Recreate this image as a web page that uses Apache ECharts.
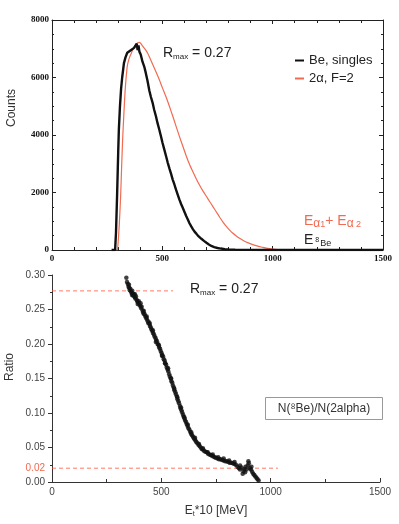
<!DOCTYPE html>
<html>
<head>
<meta charset="utf-8">
<title>Be / 2alpha</title>
<script src="https://cdn.jsdelivr.net/npm/echarts@6.0.0/dist/echarts.min.js"></script>
<style>
  html, body { margin: 0; padding: 0; background: #fff; }
  .chart { width: 399px; height: 524px; }
</style>
</head>
<body>
<div class="box"><div class="chart"></div></div>
<script>
// 上图：Be 单举 计数 [E, counts]
var beSingles = [
  [270, 0], [286, 0], [290, 600], [295, 1900], [300, 3400], [303, 4190], [308, 5000],
  [313, 5600], [318, 6000], [326, 6500], [333, 6700], [341, 6860], [350, 6900],
  [357, 6950], [365, 6980], [372, 7030], [380, 7090], [384, 7180], [388, 6950],
  [392, 7120], [396, 6900], [402, 6800], [410, 6550], [418, 6380], [425, 6160],
  [433, 5880], [441, 5550], [448, 5330], [456, 5120], [463, 4880], [471, 4650],
  [478, 4420], [486, 4190], [494, 3950], [501, 3720], [509, 3490], [517, 3260],
  [524, 3050], [532, 2840], [540, 2640], [547, 2450], [555, 2270], [562, 2100],
  [570, 1920], [577, 1760], [585, 1600], [593, 1460], [600, 1330], [608, 1180],
  [616, 1050], [623, 930], [631, 820], [639, 720], [646, 640], [654, 570],
  [661, 500], [669, 440], [677, 390], [690, 310], [700, 250], [711, 190],
  [722, 140], [735, 100], [750, 70], [765, 50], [783, 30], [800, 20], [830, 12],
  [870, 6], [900, 3], [950, 0], [1500, 0]
];
// 上图：2alpha, F=2 [E, counts]
var twoAlpha = [
  [290, 0], [296, 0], [300, 300], [305, 900], [311, 1870], [316, 3000], [321, 4000],
  [326, 4770], [331, 5500], [336, 6000], [341, 6390], [349, 6650], [357, 6800],
  [365, 6950], [372, 7050], [380, 7150], [387, 7200], [395, 7220], [403, 7180],
  [410, 7100], [418, 7020], [425, 6950], [433, 6850], [440, 6740], [456, 6460],
  [471, 6200], [486, 5930], [501, 5630], [517, 5320], [532, 5000], [547, 4660],
  [562, 4310], [577, 3960], [593, 3610], [608, 3280], [623, 2980], [639, 2710],
  [654, 2470], [669, 2250], [685, 2040], [700, 1860], [715, 1680], [730, 1500],
  [745, 1320], [760, 1140], [775, 970], [790, 820], [805, 690], [820, 580],
  [835, 490], [850, 410], [865, 340], [880, 280], [895, 230], [910, 185],
  [925, 150], [940, 120], [955, 90], [970, 65], [985, 45], [1000, 30], [1020, 18],
  [1050, 9], [1080, 4], [1120, 0], [1500, 0]
];
// 下图：比值 N(8Be)/N(2alpha) [E, ratio]
var ratio = [
  [340, .296], [343, .290], [347, .287], [350, .283], [353, .281], [356, .278], [358, .280],
  [361, .276], [364, .274], [367, .277], [370, .273], [372, .270], [375, .272], [378, .268],
  [381, .266], [384, .269], [387, .264], [390, .262], [394, .260], [397, .262], [400, .257],
  [404, .255], [407, .252], [410, .254], [414, .249], [417, .246], [420, .248], [424, .243],
  [427, .240], [431, .238], [434, .236], [438, .233], [441, .230], [445, .231], [448, .226],
  [452, .224], [455, .221], [459, .219], [462, .216], [466, .214], [469, .211], [473, .209],
  [476, .206], [480, .204], [483, .200], [487, .199], [490, .195], [494, .193], [497, .190],
  [501, .187], [504, .184], [508, .182], [511, .178], [515, .176], [518, .172], [522, .170],
  [525, .166], [529, .163], [532, .160], [536, .156], [539, .153], [543, .150], [546, .146],
  [550, .144], [553, .140], [557, .137], [560, .133], [564, .130], [567, .127], [571, .124],
  [574, .120], [578, .117], [581, .114], [585, .110], [588, .107], [592, .104], [595, .101],
  [599, .098], [602, .095], [606, .092], [609, .089], [613, .087], [616, .084], [620, .081],
  [624, .078], [628, .076], [632, .073], [636, .070], [640, .068], [644, .066], [648, .064],
  [652, .062], [656, .060], [660, .058], [665, .056], [670, .054], [675, .052], [680, .050],
  [685, .048], [690, .047], [696, .045], [702, .044], [708, .043], [714, .041], [720, .040],
  [726, .039], [732, .038], [738, .037], [744, .036], [750, .035], [757, .034], [764, .033],
  [771, .033], [778, .032], [785, .031], [792, .030], [799, .030], [806, .029], [813, .028],
  [820, .028], [827, .027], [834, .026], [841, .025], [848, .022], [855, .020], [860, .018],
  [866, .021], [872, .012], [876, .016], [880, .019], [885, .022], [890, .018], [895, .024],
  [900, .027], [905, .020], [910, .018], [915, .015], [920, .012], [925, .010], [930, .008],
  [935, .006], [940, .004], [945, .002],
  // 散点带的厚度
  [352, .286], [366, .271], [379, .272], [392, .258], [405, .259], [419, .244], [433, .240],
  [447, .229], [461, .220], [475, .203], [489, .198], [503, .183], [517, .172], [531, .165],
  [545, .150], [559, .135], [573, .123], [590, .108], [605, .094], [621, .083], [637, .072],
  [654, .064], [672, .055], [690, .049], [712, .043], [735, .040], [760, .036], [785, .034],
  [810, .031], [835, .029], [860, .024], [883, .014], [898, .030], [912, .022]
];
// 参考线 [值, 结束E]
var rmaxLine = [0.277, 553];
var lowLine = [0.02, 1033];

(function () {
  var myChart = echarts.init(document.querySelector(".box .chart"));
  var red = "#f26a50";
  var dash = "#ff5a40";
  var sans = "Liberation Sans, Arial, sans-serif";
  var serif = "Liberation Serif, Times New Roman, serif";
  var plain = function (v) { return String(v); };

  // 上图坐标轴公共样式
  var topAxis = {
    axisLine: { show: true, onZero: false, lineStyle: { color: "#222", width: 1 } },
    axisTick: { show: true, inside: true, length: 4, lineStyle: { color: "#222" } },
    minorTick: { show: true, length: 2, lineStyle: { color: "#222" } },
    splitLine: { show: false },
  };
  var botAxis = {
    axisLine: { show: true, onZero: false, lineStyle: { color: "#333", width: 1 } },
    splitLine: { show: false },
  };
  var rmaxRich = {
    r: { fontFamily: sans, fontSize: 14, fill: "#222", lineHeight: 16 },
    s: { fontFamily: sans, fontSize: 8, fill: "#222", verticalAlign: "bottom", lineHeight: 12 },
  };
  // 虚线参考线
  var refLine = function (v) {
    return {
      type: "line",
      xAxisIndex: 2,
      yAxisIndex: 2,
      data: [[0, v[0]], [v[1], v[0]]],
      showSymbol: false,
      silent: true,
      z: 1,
      color: dash,
      lineStyle: { type: [4, 3], color: dash, width: 1, opacity: 0.8 },
    };
  };

  var option = {
    animation: false,
    backgroundColor: "#fff",
    grid: [
      { left: 52, top: 20, width: 331, height: 230, outerBoundsMode: "none", containLabel: false },
      { left: 52, top: 275, width: 328, height: 207, outerBoundsMode: "none", containLabel: false },
    ],
    legend: {
      data: ["Be, singles", "2α, F=2"],
      orient: "vertical",
      left: 290,
      top: 49,
      itemGap: 5,
      icon: "rect",
      itemWidth: 9,
      itemHeight: 2,
      textStyle: { fontFamily: sans, fontSize: 13, color: "#222" },
    },
    xAxis: [
      Object.assign({}, topAxis, {
        gridIndex: 0, type: "value", min: 0, max: 1500, interval: 500,
        minorTick: Object.assign({}, topAxis.minorTick, { splitNumber: 5, length: 3 }),
        axisLabel: { fontFamily: serif, fontWeight: "bold", fontSize: 9, color: "#111", margin: 4, formatter: plain },
      }),
      Object.assign({}, topAxis, {
        gridIndex: 0, type: "value", position: "top", min: 0, max: 1500, interval: 500,
        minorTick: Object.assign({}, topAxis.minorTick, { splitNumber: 5, length: 3 }),
        axisLabel: { show: false },
      }),
      Object.assign({}, botAxis, {
        gridIndex: 1, type: "value", min: 0, max: 1500, interval: 500,
        axisTick: { show: true, inside: true, length: 4, lineStyle: { color: "#333" } },
        minorTick: { show: true, splitNumber: 2, length: 3, lineStyle: { color: "#333" } },
        axisLabel: { fontFamily: sans, fontSize: 10, color: "#444", margin: 5, formatter: plain },
        name: "{a|E}{s|t}{a|*10 [MeV]}",
        nameLocation: "middle",
        nameGap: 22,
        nameTextStyle: {
          rich: {
            a: { fontFamily: sans, fontSize: 12, color: "#333", lineHeight: 14 },
            s: { fontFamily: sans, fontSize: 7, color: "#333", verticalAlign: "bottom", lineHeight: 10 },
          },
        },
      }),
    ],
    yAxis: [
      Object.assign({}, topAxis, {
        gridIndex: 0, type: "value", min: 0, max: 8000, interval: 2000,
        minorTick: Object.assign({}, topAxis.minorTick, { splitNumber: 4 }),
        axisLabel: { fontFamily: serif, fontWeight: "bold", fontSize: 9, color: "#111", margin: 3, formatter: plain },
      }),
      Object.assign({}, topAxis, {
        gridIndex: 0, type: "value", position: "right", min: 0, max: 8000, interval: 2000,
        minorTick: Object.assign({}, topAxis.minorTick, { splitNumber: 4 }),
        axisLabel: { show: false },
      }),
      Object.assign({}, botAxis, {
        gridIndex: 1, type: "value", min: 0, max: 0.3, interval: 0.05,
        axisTick: { show: true, inside: false, length: 4, lineStyle: { color: "#333" } },
        minorTick: { show: true, splitNumber: 2, length: 2, lineStyle: { color: "#333" } },
        axisLabel: {
          fontFamily: sans, fontSize: 10, color: "#444", margin: 7,
          formatter: function (v) { return v.toFixed(2); },
        },
      }),
    ],
    series: [
      {
        name: "2α, F=2",
        type: "line",
        xAxisIndex: 0,
        yAxisIndex: 0,
        data: twoAlpha,
        showSymbol: false,
        smooth: 0.2,
        color: red,
        lineStyle: { width: 1.2, color: red },
      },
      {
        name: "Be, singles",
        type: "line",
        xAxisIndex: 0,
        yAxisIndex: 0,
        data: beSingles,
        showSymbol: false,
        color: "#111",
        lineStyle: { width: 2.4, color: "#111" },
      },
      refLine(rmaxLine),
      Object.assign(refLine(lowLine), {
        markPoint: {
          silent: true,
          symbol: "circle",
          symbolSize: 0,
          data: [{ coord: [0, lowLine[0]] }],
          label: {
            show: true, position: "left", distance: 7, formatter: "0.02",
            color: red, fontFamily: sans, fontSize: 10,
          },
        },
      }),
      {
        type: "scatter",
        xAxisIndex: 2,
        yAxisIndex: 2,
        data: ratio,
        symbolSize: 4.5,
        z: 3,
        itemStyle: { color: "#111" },
      },
    ],
    graphic: [
      // 纵轴标题
      {
        type: "text", x: 12, y: 108, rotation: Math.PI / 2,
        style: { text: "Counts", fontFamily: sans, fontSize: 12, fill: "#333", align: "center", verticalAlign: "middle" },
      },
      {
        type: "text", x: 10, y: 367, rotation: Math.PI / 2,
        style: { text: "Ratio", fontFamily: sans, fontSize: 12, fill: "#333", align: "center", verticalAlign: "middle" },
      },
      {
        type: "text", left: 163, top: 46,
        style: { text: "{r|R}{s|max}{r| = 0.27}", rich: rmaxRich },
      },
      {
        type: "text", left: 190, top: 282,
        style: { text: "{r|R}{s|max}{r| = 0.27}", rich: rmaxRich },
      },
      {
        type: "text", left: 304, top: 214,
        style: {
          text: "{e|E}{a|α}{n|1}{e|+ E}{a|α}{n| 2}",
          rich: {
            e: { fontFamily: sans, fontSize: 14, fill: red, lineHeight: 17 },
            a: { fontFamily: sans, fontSize: 12, fill: red, verticalAlign: "bottom", lineHeight: 14 },
            n: { fontFamily: sans, fontSize: 9, fill: red, verticalAlign: "bottom", lineHeight: 11 },
          },
        },
      },
      {
        type: "text", left: 304, top: 233,
        style: {
          text: "{e|E}{u|8}{s|Be}",
          rich: {
            e: { fontFamily: sans, fontSize: 14, fill: "#222", lineHeight: 17 },
            u: { fontFamily: sans, fontSize: 7, fill: "#222", verticalAlign: "middle", padding: [0, 1, 0, 2] },
            s: { fontFamily: sans, fontSize: 9, fill: "#222", verticalAlign: "bottom", lineHeight: 11 },
          },
        },
      },
      {
        type: "group", left: 265, top: 397,
        children: [
          {
            type: "rect",
            shape: { x: 0, y: 0, width: 117, height: 22 },
            style: { fill: "#fff", stroke: "#999", lineWidth: 1 },
          },
          {
            type: "text", x: 58.5, y: 11,
            style: {
              text: "N(⁸Be)/N(2alpha)",
              fontFamily: sans, fontSize: 12, fill: "#333",
              align: "center", verticalAlign: "middle",
            },
          },
        ],
      },
    ],
  };

  myChart.setOption(option);
  window.addEventListener("resize", function () {
    myChart.resize();
  });
})();
</script>
</body>
</html>
